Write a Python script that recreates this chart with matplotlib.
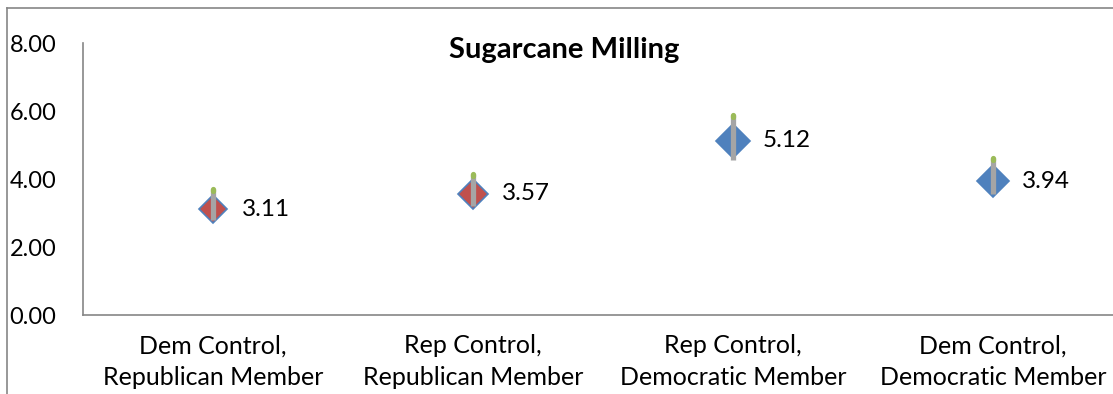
import numpy as np
import matplotlib.pyplot as plt
from matplotlib.lines import Line2D

plt.rcParams['font.family'] = ['Lato', 'DejaVu Sans']

categories = ["Dem Control,\nRepublican Member", "Rep Control,\nRepublican Member",
              "Rep Control,\nDemocratic Member", "Dem Control,\nDemocratic Member"]
means = [3.11, 3.57, 5.12, 3.94]
highs = [3.72, 4.15, 5.88, 4.62]
lows = [2.80, 3.20, 4.55, 3.55]
yticks = [0, 2, 4, 6, 8]

fills = ["#C0504D", "#C0504D", "#4F81BD", "#4F81BD"]
msizes = [14, 15, 17.5, 16]

W, H = 1113, 394
fig = plt.figure(figsize=(W / 100, H / 100), dpi=100)

# outer chart frame (only top and left edges fall inside the image)
fig.add_artist(Line2D([7 / W, 7 / W], [0, 1 - 8 / H], transform=fig.transFigure, color="#868686", lw=1.2))
fig.add_artist(Line2D([7 / W, 1], [1 - 8 / H, 1 - 8 / H], transform=fig.transFigure, color="#868686", lw=1.2))

ax = fig.add_axes([83 / W, 79 / H, 1040 / W, 272 / H])
x = np.arange(len(categories))

for i in range(len(means)):
    ax.plot(x[i], means[i], marker="D", ms=msizes[i], mfc=fills[i], mec="#4F81BD", mew=1.2, zorder=3)
    ax.plot([x[i], x[i]], [lows[i], highs[i]], color="#A5A5A5", lw=3.8, solid_capstyle="butt", zorder=4)
    ax.plot([x[i], x[i]], [highs[i] - 0.06, highs[i]], color="#9BBB59", lw=3.8, solid_capstyle="round", zorder=5)
    ax.annotate(f"{means[i]:.2f}", (x[i], means[i]), xytext=(21, 0), textcoords="offset points",
                ha="left", va="center", fontsize=17.5)

ax.set_xlim(-0.5, len(categories) - 0.5)
ax.set_ylim(0, 8)
ax.set_xticks(x)
ax.set_xticklabels(categories, fontsize=18, linespacing=1.45)
ax.set_yticks(yticks)
ax.set_yticklabels([f"{v:.2f}" for v in yticks], fontsize=17)
ax.tick_params(axis="x", length=0, pad=14)
ax.tick_params(axis="y", length=0, pad=53)
for lbl in ax.get_yticklabels():
    lbl.set_ha("left")

for s in ["top", "right"]:
    ax.spines[s].set_visible(False)
for s in ["left", "bottom"]:
    ax.spines[s].set_color("#868686")
    ax.spines[s].set_linewidth(1.2)

fig.text(564 / W, 1 - 50 / H, "Sugarcane Milling", ha="center", va="center", fontsize=21, fontweight="bold")

fig.savefig("out.png", dpi=100)
